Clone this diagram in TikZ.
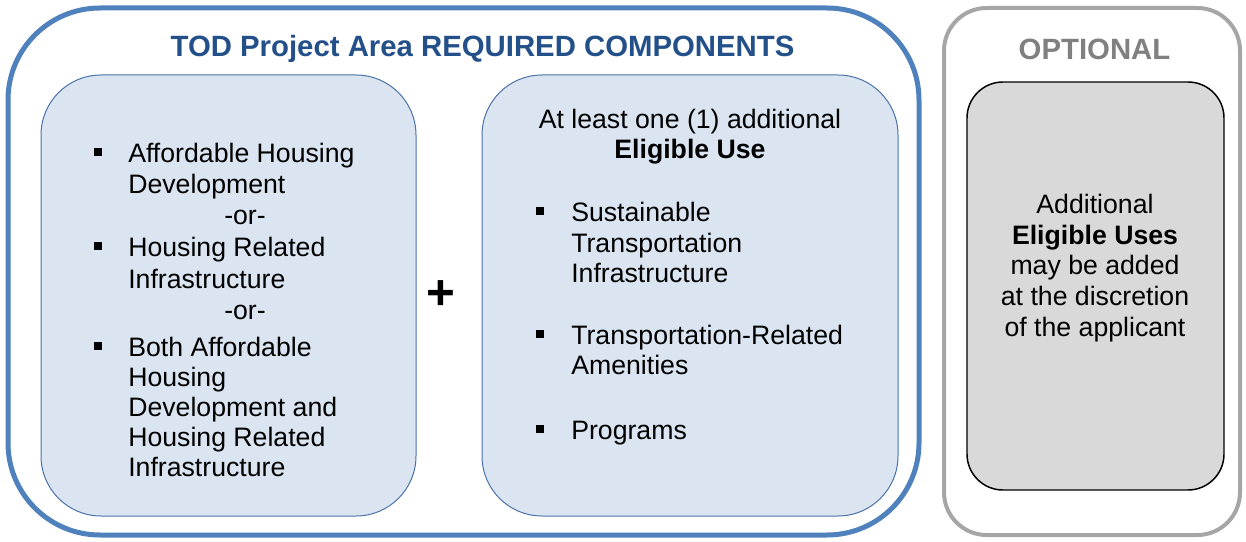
\documentclass[tikz,border=0pt]{standalone}
\usepackage{fontspec}
\setmainfont{Liberation Sans}
\definecolor{blueline}{HTML}{4F81BD}
\definecolor{boxfill}{HTML}{DBE5F1}
\definecolor{boxborder}{HTML}{4A72A8}
\definecolor{titleblue}{HTML}{24508A}
\definecolor{grayline}{HTML}{A6A6A6}
\definecolor{graytext}{HTML}{808080}
\definecolor{grayfill}{HTML}{D9D9D9}
\tikzset{
  reqframe/.style={draw=blueline, line width=3.75pt, rounded corners=69pt, inner sep=0},
  optframe/.style={draw=grayline, line width=3pt, rounded corners=32pt, inner sep=0},
  bluebox/.style={fill=boxfill, draw=boxborder, line width=0.75pt, rounded corners=45pt, inner sep=0},
  graybox/.style={fill=grayfill, draw=black, line width=1.1pt, rounded corners=27pt, inner sep=0},
  body/.style={font=\fontsize{20}{24}\selectfont, inner sep=0, anchor=base west, yshift=-1.1pt},
  bodyc/.style={font=\fontsize{20}{24}\selectfont, inner sep=0, anchor=base, yshift=-1.1pt},
  bodyb/.style={font=\fontsize{20}{24}\selectfont\bfseries, inner sep=0, anchor=base, yshift=-1.1pt},
  headline/.style={font=\fontsize{22}{26}\selectfont\bfseries, inner sep=0, anchor=base},
  sqmark/.style={fill=black, minimum size=6pt, inner sep=0, draw=none, yshift=-0.8pt},
}
\begin{document}
\begin{tikzpicture}[x=0.75pt,y=-0.75pt]
\useasboundingbox (0,0) rectangle (1246,542);
% frames
\node[reqframe, minimum width=683.25pt, minimum height=395.25pt] (req) at (463.5,271.5) {};
\node[optframe, minimum width=222pt, minimum height=395.25pt] (opt) at (1092,271.5) {};
% inner boxes
\node[bluebox, minimum width=281.25pt, minimum height=330.75pt] (left) at (228.5,295.5) {};
\node[bluebox, minimum width=312pt, minimum height=330.75pt] (right) at (690,295.5) {};
\node[graybox, minimum width=192.75pt, minimum height=306pt] (optbox) at (1095.5,286) {};
% titles
\node[headline, text=titleblue] (title) at (482.5,57) {TOD Project Area REQUIRED COMPONENTS};
\node[headline, text=graytext] (opttitle) at (1094.5,60) {OPTIONAL};
% plus
\node[font=\fontsize{37}{37}\selectfont\bfseries, inner sep=0] (plus) at (440.5,295) {+};
% left column
\node[sqmark] (lb1) at (97.5,151) {};
\node[body] (l1) at (128,161) {Affordable Housing};
\node[body] (l2) at (128,192) {Development};
\node[bodyc] (lor1) at (245,223) {-or-};
\node[sqmark] (lb2) at (97.5,245) {};
\node[body] (l3) at (128,255) {Housing Related};
\node[body] (l4) at (128,287) {Infrastructure};
\node[bodyc] (lor2) at (245,318) {-or-};
\node[sqmark] (lb3) at (97.5,345) {};
\node[body] (l5) at (128,355) {Both Affordable};
\node[body] (l6) at (128,385) {Housing};
\node[body] (l7) at (128,415) {Development and};
\node[body] (l8) at (128,445) {Housing Related};
\node[body] (l9) at (128,475) {Infrastructure};
% right column
\node[bodyc] (r0) at (690,127) {At least one (1) additional};
\node[bodyb] (r0b) at (690,157) {Eligible Use};
\node[sqmark] (rb1) at (540,210) {};
\node[body] (r1) at (571,220) {Sustainable};
\node[body] (r2) at (571,251.5) {Transportation};
\node[body] (r3) at (571,281.5) {Infrastructure};
\node[sqmark] (rb2) at (540,333) {};
\node[body] (r4) at (571,343) {Transportation-Related};
\node[body] (r5) at (571,373) {Amenities};
\node[sqmark] (rb3) at (540,428) {};
\node[body] (r6) at (571,438) {Programs};
% optional text
\node[bodyc] (o1) at (1095,212) {Additional};
\node[bodyb] (o2) at (1095,243) {Eligible Uses};
\node[bodyc] (o3) at (1095,273) {may be added};
\node[bodyc] (o4) at (1095,304) {at the discretion};
\node[bodyc] (o5) at (1095,335) {of the applicant};
\end{tikzpicture}
\end{document}
